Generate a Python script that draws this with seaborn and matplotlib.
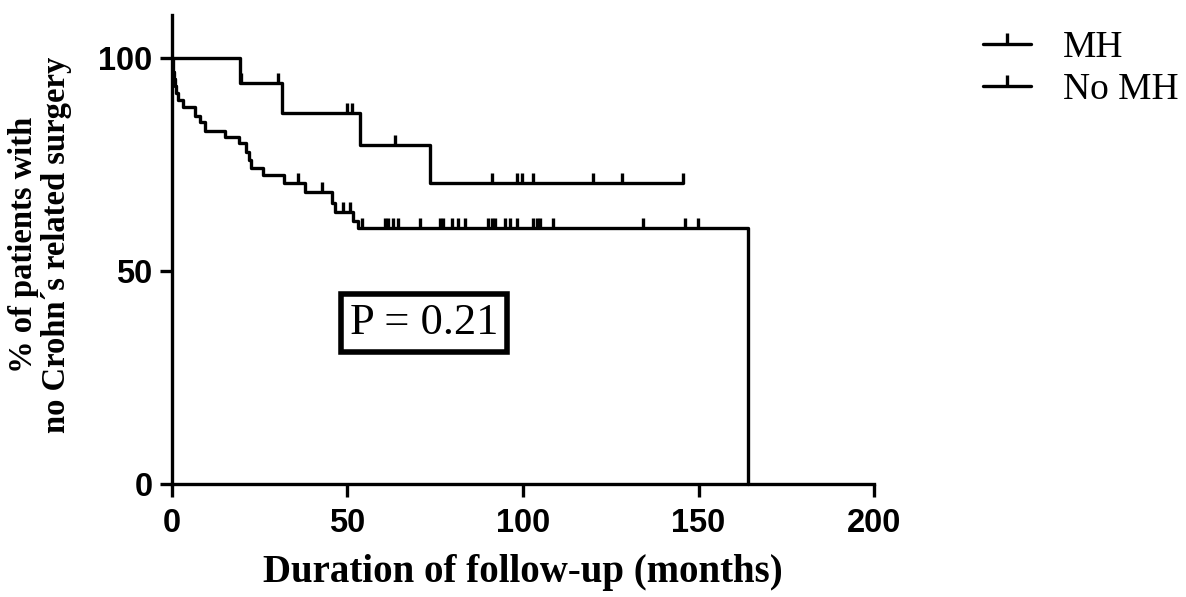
import numpy as np
import pandas as pd
import matplotlib
matplotlib.use("Agg")
import matplotlib.pyplot as plt
import seaborn as sns
from matplotlib.lines import Line2D

# Kaplan-Meier curves (months, % without surgery)
mh_times = [0, 19.4, 31.3, 53.6, 73.5, 145.6]
mh_surv = [100, 94.1, 87.1, 79.4, 70.5, 70.5]
mh_censor = [19.8, 30.2, 49.9, 51.3, 63.5, 91.2, 98.3, 99.7, 102.8, 119.9, 128.2, 145.6]

nomh_times = [0, 0.2, 0.5, 0.8, 1.2, 1.6, 3.0, 6.5, 8.0, 9.5, 15.0, 19.0, 21.0, 22.0,
              22.5, 26.0, 32.0, 38.0, 45.5, 46.5, 51.5, 53.0, 164.0]
nomh_surv = [100, 96.7, 95.0, 93.3, 91.7, 90.0, 88.3, 86.4, 84.8, 82.9, 81.3, 79.9, 77.9,
             76.0, 74.2, 72.4, 70.5, 68.4, 65.8, 63.7, 61.8, 60.0, 0]
nomh_censor = [35.9, 42.7, 48.7, 50.7, 54.1, 60.7, 61.5, 63.0, 64.4, 70.7, 76.4, 77.2, 79.8,
               81.5, 83.5, 90.0, 91.2, 92.0, 94.9, 96.3, 98.3, 102.8, 104.0, 104.8, 108.5,
               134.2, 146.2, 149.9]

groups = ["MH", "No MH"]
p_text = "P = 0.21"


def level_at(times, surv, t):
    idx = np.searchsorted(times, t, side="right") - 1
    return np.asarray(surv)[idx]


curves = pd.concat([
    pd.DataFrame({"time": mh_times, "surv": mh_surv, "group": "MH"}),
    pd.DataFrame({"time": nomh_times, "surv": nomh_surv, "group": "No MH"}),
])
censors = pd.concat([
    pd.DataFrame({"time": mh_censor, "surv": level_at(mh_times, mh_surv, mh_censor), "group": "MH"}),
    pd.DataFrame({"time": nomh_censor, "surv": level_at(nomh_times, nomh_surv, nomh_censor), "group": "No MH"}),
])

sns.set_style("ticks")
plt.rcParams.update({
    "axes.linewidth": 2.4,
    "axes.edgecolor": "black",
    "text.color": "black",
    "xtick.color": "black",
    "ytick.color": "black",
    "axes.labelcolor": "black",
})

fig = plt.figure(figsize=(11.86, 5.97), dpi=100)
ax = fig.add_axes([0.145, 0.189, 0.592, 0.786])

for g in groups:
    d = curves[curves["group"] == g]
    sns.lineplot(data=d, x="time", y="surv", color="black", linewidth=2.4,
                 drawstyle="steps-post", estimator=None, sort=False, ax=ax, clip_on=False)
    c = censors[censors["group"] == g]
    sns.scatterplot(data=c, x="time", y="surv", color="black", marker=2, s=55,
                    linewidth=2.4, ax=ax, clip_on=False, zorder=3)

ax.set_xlim(0, 200)
ax.set_ylim(0, 110)
ax.set_xticks([0, 50, 100, 150, 200])
ax.set_yticks([0, 50, 100])
sns.despine(ax=ax)
ax.tick_params(axis="both", direction="out", length=9, width=2.4, color="black")
ax.tick_params(axis="x", pad=8)
ax.tick_params(axis="y", pad=5)
for lab in ax.get_xticklabels() + ax.get_yticklabels():
    lab.set_fontfamily(["Liberation Sans Narrow", "Liberation Sans"])
    lab.set_fontweight("bold")
    lab.set_fontsize(23.5)

ax.set_xlabel("Duration of follow-up (months)", fontfamily="Liberation Serif",
              fontweight="bold", fontsize=28)
ax.set_ylabel("% of patients with\nno Crohn\u00b4s related surgery", fontfamily="Liberation Serif",
              fontweight="bold", fontsize=23.5, linespacing=1.05)
ax.xaxis.set_label_coords(0.5, -0.148)
ax.yaxis.set_label_coords(-0.143, 0.51)

ax.text(71.8, 37.7, p_text, fontfamily="Liberation Serif", fontsize=32,
        ha="center", va="center",
        bbox=dict(boxstyle="square,pad=0.2", facecolor="white", edgecolor="black", linewidth=4))

handles = [Line2D([0], [0], color="black", lw=2.4, marker=2, markersize=8, mew=2.4) for _ in groups]
fig.legend(handles, groups, loc="upper left", bbox_to_anchor=(0.8, 1.005), frameon=False,
           prop={"family": "Liberation Serif", "size": 27}, handlelength=1.3,
           handletextpad=0.85, labelspacing=0.2, numpoints=1)

fig.savefig("out.png", dpi=100)
